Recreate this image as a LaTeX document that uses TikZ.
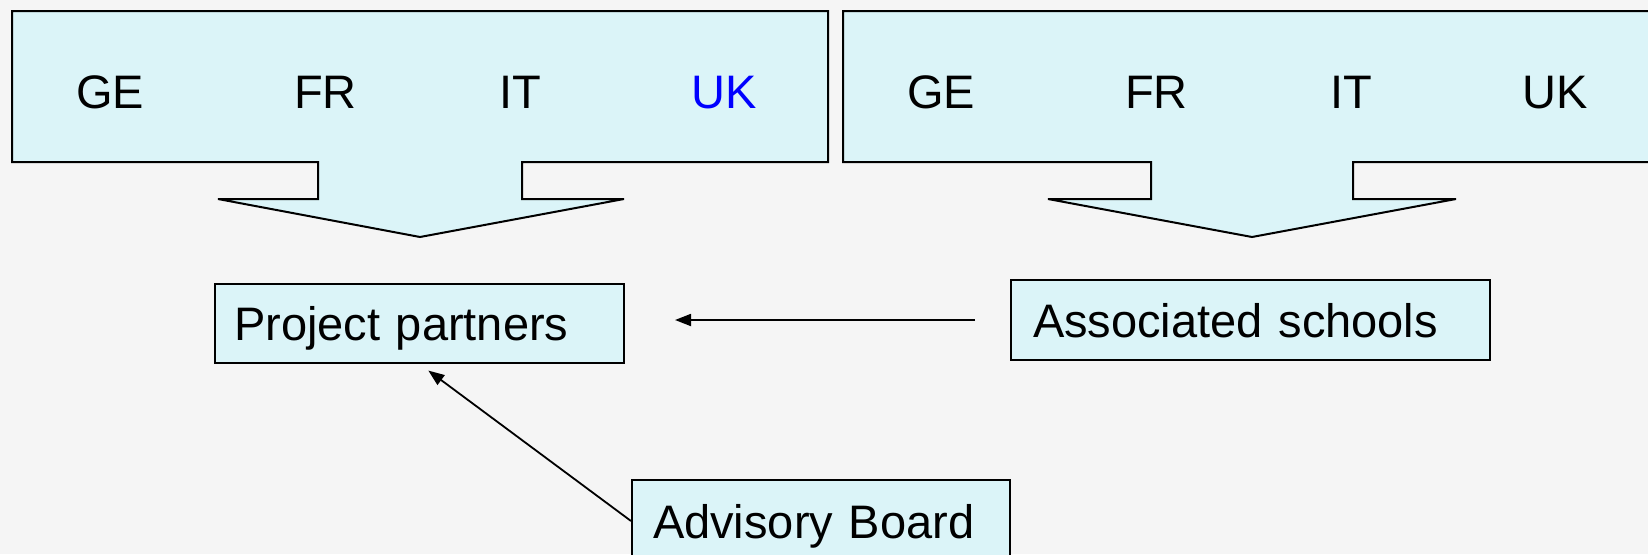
\documentclass[tikz,border=0pt]{standalone}
\usepackage{fontspec}
\setmainfont{Liberation Sans}
\usetikzlibrary{arrows.meta}
\definecolor{boxfill}{RGB}{219,244,248}
\definecolor{bgcol}{RGB}{245,245,245}
\definecolor{ukblue}{RGB}{0,0,255}
\begin{document}
\begin{tikzpicture}[x=1pt,y=-1pt,
  calloutshape/.style={draw=black, line width=2pt, fill=boxfill, line join=miter},
  lbl/.style={inner sep=0pt, anchor=base west, font=\fontsize{47}{56}\selectfont},
  box/.style={draw=black, line width=2pt, fill=boxfill, anchor=north west, inner ysep=0pt,
    align=left, text height=34pt, text depth=0pt, font=\fontsize{47}{56}\selectfont},
  arr/.style={line width=1.8pt, -{Triangle[length=16pt,width=12pt]}}]
\useasboundingbox (0,0) rectangle (1648,554);
\fill[bgcol] (0,0) rectangle (1648,554);
\begin{scope}
\clip (0,0) rectangle (1648,554);
% left callout
\draw[calloutshape] (12,11) -- (828,11) -- (828,162) -- (522,162) -- (522,199) -- (624,199)
  -- (420,237) -- (218,199) -- (318,199) -- (318,162) -- (12,162) -- cycle;
% right callout
\draw[calloutshape] (843,11) -- (1661,11) -- (1661,162) -- (1353,162) -- (1353,199) -- (1456,199)
  -- (1252,237) -- (1048,199) -- (1151,199) -- (1151,162) -- (843,162) -- cycle;
\node[lbl] (ge1) at (76,108) {GE};
\node[lbl] (fr1) at (294,108) {FR};
\node[lbl] (it1) at (499,108) {IT};
\node[lbl, text=ukblue] (uk1) at (691,108) {UK};
\node[lbl] (ge2) at (907,108) {GE};
\node[lbl] (fr2) at (1125,108) {FR};
\node[lbl] (it2) at (1330,108) {IT};
\node[lbl] (uk2) at (1522,108) {UK};
% boxes
\node[box, minimum width=409pt, minimum height=79pt, text width=371pt, inner xsep=19pt] (pp) at (214,283) {Project partners};
\node[box, minimum width=479pt, minimum height=80pt, text width=435pt, inner xsep=22pt] (as) at (1010,279) {Associated schools};
\node[box, minimum width=378pt, minimum height=82pt, text width=336pt, inner xsep=21pt] (ab) at (631,479) {Advisory Board};
% arrows
\draw[arr, shorten <=35pt, shorten >=50pt] (as.west) -- (as.west -| pp.east);
\draw[arr, shorten >=11pt] (ab.west) -- (pp.south);
\end{scope}
\end{tikzpicture}
\end{document}
